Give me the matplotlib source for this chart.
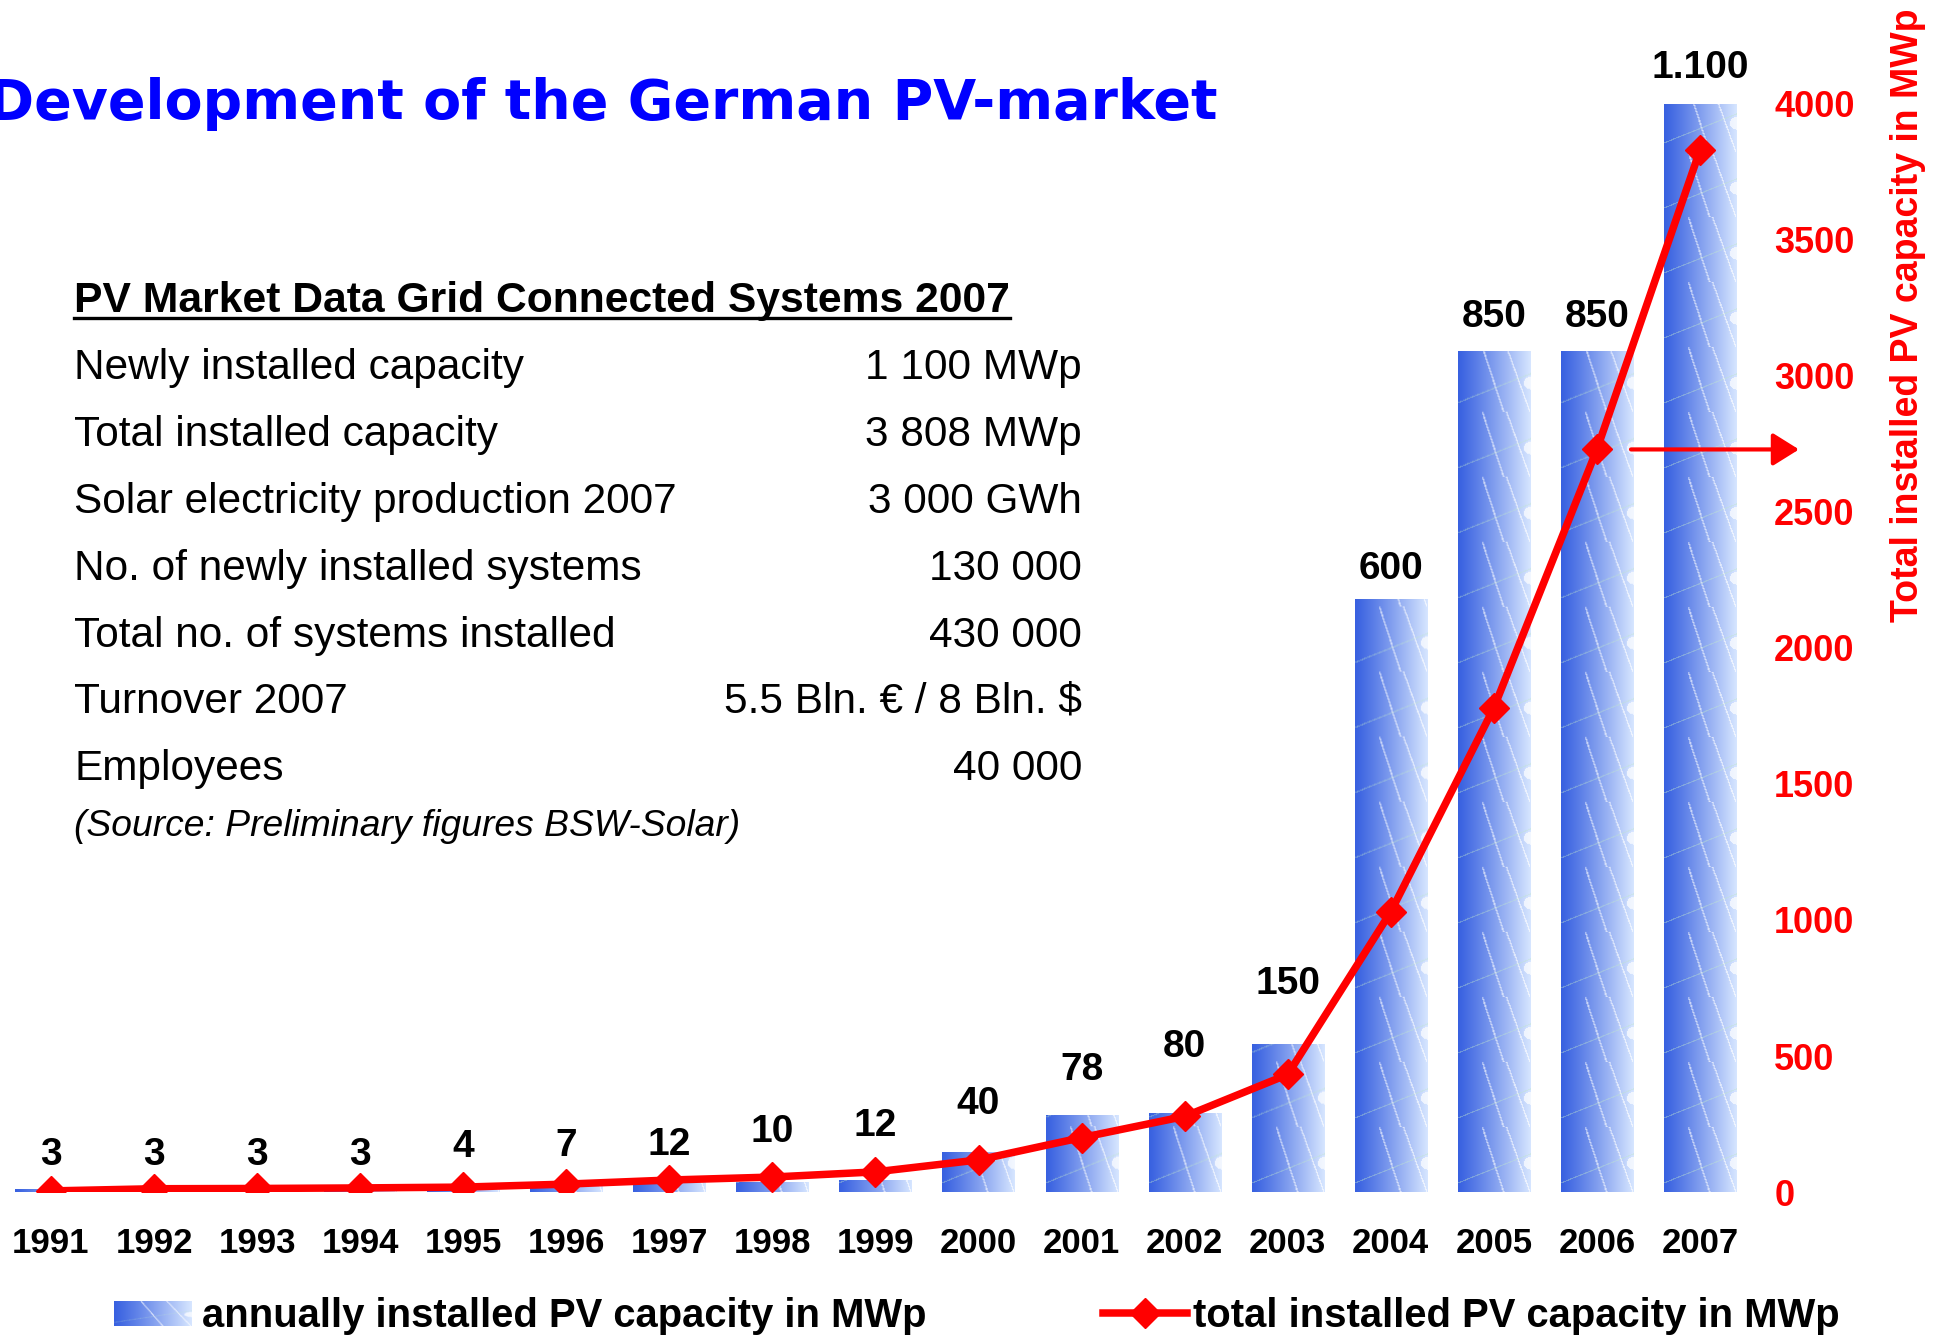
import numpy as np
import matplotlib.pyplot as plt
from matplotlib.lines import Line2D

# data
years = list(range(1991, 2008))
annual_mwp = [3, 3, 3, 3, 4, 7, 12, 10, 12, 40, 78, 80, 150, 600, 850, 850, 1100]
annual_labels = ['3', '3', '3', '3', '4', '7', '12', '10', '12', '40', '78', '80',
                 '150', '600', '850', '850', '1.100']
total_mwp = [4, 12, 13, 15, 18, 29, 44, 55, 74, 118, 200, 278, 432, 1030, 1780, 2730, 3830]
right_ticks = [0, 500, 1000, 1500, 2000, 2500, 3000, 3500, 4000]

table_title = 'PV Market Data Grid Connected Systems 2007'
table_labels = ['Newly installed capacity', 'Total installed capacity',
                'Solar electricity production 2007', 'No. of newly installed systems',
                'Total no. of systems installed', 'Turnover 2007', 'Employees']
table_values = ['1 100 MWp', '3 808 MWp', '3 000 GWh', '130 000', '430 000',
                '5.5 Bln. € / 8 Bln. $', '40 000']
source_note = '(Source: Preliminary figures BSW-Solar)'

# label gap above bar top, in pixels (placement only)
label_gap = [34, 34, 34, 34, 41, 39, 35, 50, 54, 48, 45, 66, 60, 30, 34, 34, 36]

W, H = 1943, 1335
RED = '#ff0000'
plt.rcParams['font.family'] = ['Liberation Sans', 'DejaVu Sans']


def fx(px):
    return px / W


def fy(py):
    return 1 - py / H


def solar_tile(h=65, w=72):
    # gradient blue cell with a few white grid lines
    t = np.linspace(0, 1, w)
    left = np.array([0.22, 0.38, 0.88])
    right = np.array([0.84, 0.90, 1.0])
    g = left + (right - left) * (t[:, None] ** 1.1)
    img = np.tile(g[None, :, :], (h, 1, 1))
    yy, xx = np.mgrid[0:h, 0:w]
    for x0, x1 in [(0.33, 0.62), (0.66, 0.98)]:
        xl = (x0 + (x1 - x0) * yy / h) * w
        m = np.abs(xx - xl) < 0.7
        img[m] = img[m] * 0.35 + 0.65
    d = np.abs(yy - (0.85 * h - 0.45 * h * xx / w)) < 0.6
    img[d] = img[d] * 0.6 + np.array([0.75, 0.9, 0.8]) * 0.4
    blob = ((xx - w) ** 2 / 60.0 + (yy - 0.55 * h) ** 2 / 40.0) < 1
    img[blob] = img[blob] * 0.3 + 0.7
    return np.clip(img, 0, 1)


tile = solar_tile()

fig = plt.figure(figsize=(W / 100, H / 100), dpi=100)
ax_left, ax_right_px, ax_top_px, ax_bot_px = 0, 1745, 104, 1192
ax = fig.add_axes([fx(ax_left), fy(ax_bot_px), fx(ax_right_px - ax_left), (ax_bot_px - ax_top_px) / H])
ax2 = ax.twinx()

x_per_px = 1 / 103.06
xlim = (1991 - 51 * x_per_px, 1991 + (ax_right_px - 51) * x_per_px)

bars = ax.bar(years, annual_mwp, width=0.7, color='none', edgecolor='none')
tile_h = 65 * 1100 / 1088
n_tiles = int(np.ceil(1100 / tile_h)) + 1
tex = np.tile(tile, (n_tiles, 1, 1))
for b in bars:
    im = ax.imshow(tex, extent=(b.get_x(), b.get_x() + b.get_width(), 0, n_tiles * tile_h),
                   origin='upper', aspect='auto', interpolation='bilinear', zorder=1)
    im.set_clip_path(b)
ax.set_xlim(*xlim)
ax.set_ylim(0, 1100)
ax2.set_ylim(0, 4000)

for yr, v, lab, gap in zip(years, annual_mwp, annual_labels, label_gap):
    ax.annotate(lab, (yr, v), xytext=(0, gap), textcoords='offset pixels',
                ha='center', va='center', fontsize=28, fontweight='bold', color='black')

ax2.plot(years, total_mwp, color=RED, lw=5.4, marker='D', markersize=15, zorder=5)

ax2.annotate('', xy=(fx(1799) / fx(ax_right_px), total_mwp[-2]),
             xycoords=('axes fraction', 'data'),
             xytext=(1991 + (1631 - 51) * x_per_px, total_mwp[-2]), textcoords='data',
             arrowprops=dict(arrowstyle='-|>,head_length=0.8,head_width=0.5',
                             mutation_scale=20, lw=3, color=RED, shrinkA=0, shrinkB=0))

ax.set_xticks(years)
ax.set_xticklabels([str(y) for y in years], fontsize=25, fontweight='bold')
ax.tick_params(axis='x', length=0, pad=25)
ax.set_yticks([])
ax2.set_yticks(right_ticks)
ax2.set_yticklabels([str(t) for t in right_ticks], fontsize=26, fontweight='bold', color=RED)
ax2.tick_params(axis='y', length=0, pad=21)
for a in (ax, ax2):
    for s in a.spines.values():
        s.set_visible(False)
    a.patch.set_visible(False)

fig.text(fx(1908), fy(315), 'Total installed PV capacity in MWp', rotation=90,
         ha='center', va='center', fontsize=27, fontweight='bold', color=RED)

fig.text(fx(1217), fy(119), 'Development of the German PV-market', ha='right', va='baseline',
         fontsize=40, fontweight='bold', color='#0000ff', family='DejaVu Sans')

# table block
head = fig.text(fx(74), fy(312), table_title, ha='left', va='baseline', fontsize=30.7, fontweight='bold')
fig.canvas.draw()
bb = head.get_window_extent()
fig.add_artist(Line2D([bb.x0 / W, bb.x1 / W], [fy(318), fy(318)], color='black', lw=2.4,
                      transform=fig.transFigure))
row_base = [379, 446, 513, 580, 647, 713, 780]
for yb, lab, val in zip(row_base, table_labels, table_values):
    fig.text(fx(74), fy(yb), lab, ha='left', va='baseline', fontsize=30.5)
    fig.text(fx(1082), fy(yb), val, ha='right', va='baseline', fontsize=30.5)
fig.text(fx(74), fy(836), source_note, ha='left', va='baseline', fontsize=26.8, style='italic')

# legend
sw = fig.add_axes([fx(114), fy(1326), fx(78), 25 / H])
sw.imshow(tile, aspect='auto', interpolation='bilinear')
sw.axis('off')
fig.text(fx(202), fy(1327), 'annually installed PV capacity in MWp', ha='left', va='baseline',
         fontsize=28.8, fontweight='bold')
fig.add_artist(Line2D([fx(1103), fx(1187)], [fy(1313), fy(1313)], color=RED, lw=5.4,
                      transform=fig.transFigure))
fig.add_artist(Line2D([fx(1145)], [fy(1313)], color=RED, marker='D', markersize=15,
                      transform=fig.transFigure))
fig.text(fx(1193), fy(1327), 'total installed PV capacity in MWp', ha='left', va='baseline',
         fontsize=28.8, fontweight='bold')

fig.savefig('out.png', dpi=100)
